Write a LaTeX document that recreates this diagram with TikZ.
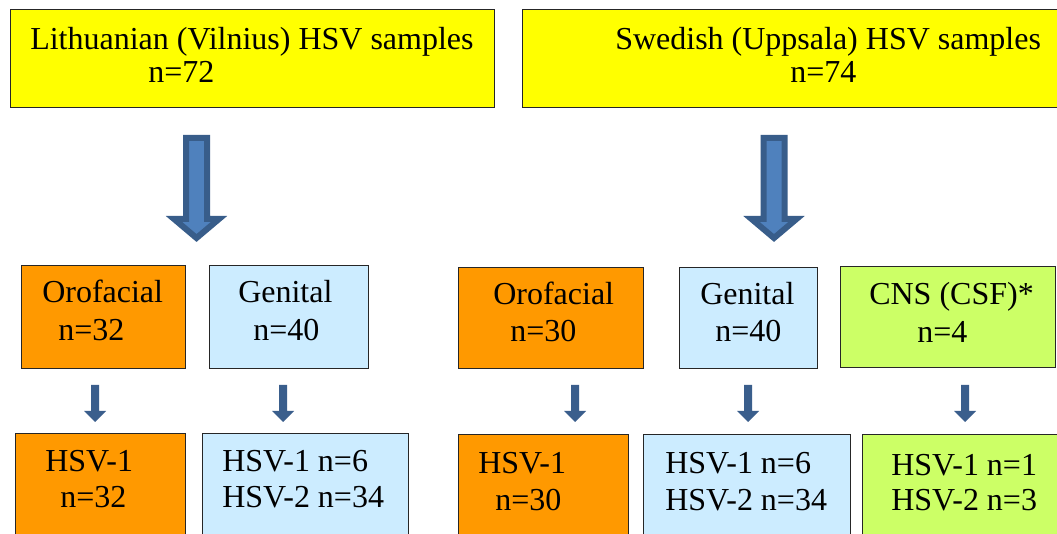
\documentclass[tikz,border=0pt]{standalone}
\usepackage{fontspec}
\setmainfont{LiberationSerif-Regular.ttf}
\usepackage{tikz}

\definecolor{sampleyellow}{HTML}{FFFF00}
\definecolor{orofacialorange}{HTML}{FF9900}
\definecolor{genitalblue}{HTML}{CCECFF}
\definecolor{cnsgreen}{HTML}{CCFF66}
\definecolor{arrowfill}{HTML}{4F81BD}
\definecolor{arrowline}{HTML}{385D8A}
\definecolor{arrowdark}{HTML}{3A5E8C}

\tikzset{
  box/.style={draw=black!85, line width=0.75pt, anchor=north west, inner sep=0pt},
  txt/.style={anchor=base west, inner sep=0pt, font=\fontsize{24}{28}\selectfont},
  bigarrow/.style={fill=arrowfill, draw=arrowline, line width=4.5pt, line join=miter},
  smallarrow/.style={fill=arrowdark}
}

\begin{document}
\begin{tikzpicture}[x=0.75pt, y=-0.75pt]
            \clip (0, 0) rectangle (1057, 534);
            \fill[white] (0, 0) rectangle (1057, 534);

            % top boxes
            \node[box, fill=sampleyellow, minimum width=363pt, minimum height=73.5pt] (lith) at (10, 9) {};
            \node[box, fill=sampleyellow, minimum width=420pt, minimum height=73.5pt] (swed) at (522, 9) {};
            \node[txt] (lith1) at (30, 50) {Lithuanian (Vilnius) HSV samples};
            \node[txt] (lith2) at (148, 83) {n=72};
            \node[txt] (swed1) at (615, 50) {Swedish (Uppsala) HSV samples};
            \node[txt] (swed2) at (790, 83) {n=74};

            % big arrows
            \coordinate (la) at (196.5, 138);
            \coordinate (ra) at (774, 138);
            \draw[bigarrow] (la) ++(-10.5, 0) -- ++(21, 0) -- ++(0, 81) -- ++(12, 0) -- ++(-22.5, 19) -- ++(-22.5, -19) -- ++(12, 0) -- cycle;
            \draw[bigarrow] (ra) ++(-10.5, 0) -- ++(21, 0) -- ++(0, 81) -- ++(12, 0) -- ++(-22.5, 19) -- ++(-22.5, -19) -- ++(12, 0) -- cycle;

            % middle boxes
            \node[box, fill=orofacialorange, minimum width=123pt, minimum height=77pt] (oroL) at (21, 265) {};
            \node[box, fill=genitalblue, minimum width=119.25pt, minimum height=77pt] (genL) at (209, 265) {};
            \node[box, fill=orofacialorange, minimum width=138.75pt, minimum height=75.75pt] (oroR) at (458, 267) {};
            \node[box, fill=genitalblue, minimum width=103.5pt, minimum height=75.75pt] (genR) at (679, 267) {};
            \node[box, fill=cnsgreen, minimum width=161.25pt, minimum height=75.75pt] (cns) at (840, 266) {};
            \node[txt] (oroL1) at (42, 303) {Orofacial};
            \node[txt] (oroL2) at (58, 341) {n=32};
            \node[txt] (genL1) at (238, 303) {Genital};
            \node[txt] (genL2) at (253, 341) {n=40};
            \node[txt] (oroR1) at (493, 305) {Orofacial};
            \node[txt] (oroR2) at (510, 342) {n=30};
            \node[txt] (genR1) at (700, 305) {Genital};
            \node[txt] (genR2) at (715, 342) {n=40};
            \node[txt] (cns1) at (869, 305) {CNS (CSF)*};
            \node[txt] (cns2) at (917, 343) {n=4};

            % small arrows
            \foreach \ax [count=\i] in {95, 283, 575, 748, 965} {
              \coordinate (sa\i) at (\ax, 385);
              \fill[smallarrow] (sa\i) ++(-4, 0) -- ++(8, 0) -- ++(0, 26) -- ++(7, 0) -- ++(-11, 11) -- ++(-11, -11) -- ++(7, 0) -- cycle;
            }

            % bottom boxes
            \node[box, fill=orofacialorange, minimum width=127.5pt, minimum height=90pt] (hsvL) at (15, 433) {};
            \node[box, fill=genitalblue, minimum width=154.5pt, minimum height=90pt] (mixL) at (202, 433) {};
            \node[box, fill=orofacialorange, minimum width=127.5pt, minimum height=90pt] (hsvR) at (458, 434) {};
            \node[box, fill=genitalblue, minimum width=155.25pt, minimum height=90pt] (mixR) at (643, 434) {};
            \node[box, fill=cnsgreen, minimum width=150pt, minimum height=90pt] (mixC) at (862, 434) {};
            \node[txt] (hsvL1) at (45, 472) {HSV-1};
            \node[txt] (hsvL2) at (60, 508) {n=32};
            \node[txt] (mixL1) at (222, 472) {HSV-1 n=6};
            \node[txt] (mixL2) at (222, 508) {HSV-2 n=34};
            \node[txt] (hsvR1) at (478, 474) {HSV-1};
            \node[txt] (hsvR2) at (495, 510) {n=30};
            \node[txt] (mixR1) at (665, 474) {HSV-1 n=6};
            \node[txt] (mixR2) at (665, 510) {HSV-2 n=34};
            \node[txt] (mixC1) at (891, 475) {HSV-1 n=1};
            \node[txt] (mixC2) at (891, 510) {HSV-2 n=3};

        \end{tikzpicture}
\end{document}
